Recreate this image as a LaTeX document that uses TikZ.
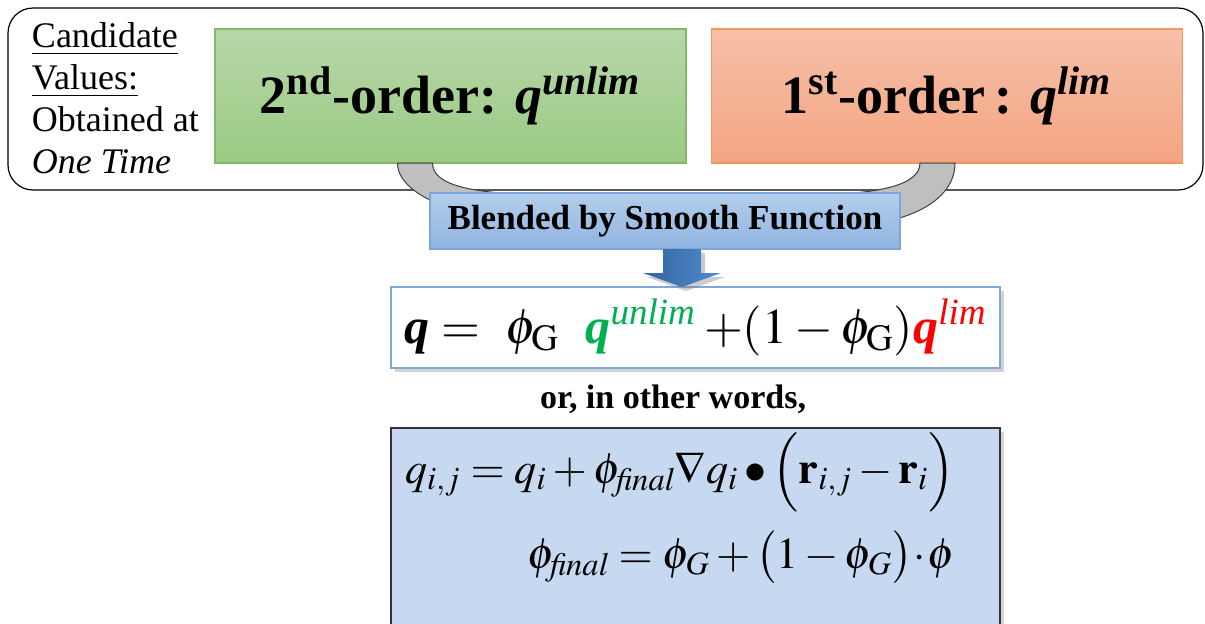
\documentclass[tikz,border=0pt]{standalone}
\usepackage{amsmath}
\usepackage{mathptmx}
\usepackage[no-math]{fontspec}
\setmainfont{Liberation Serif}
\usepackage{xcolor}
\usepackage{tikz}
\usetikzlibrary{positioning,calc,shadows}
\definecolor{qgreen}{HTML}{00B050}
\definecolor{qred}{HTML}{FF0000}
\definecolor{boxblue}{HTML}{C6D9F0}
\definecolor{lineblue}{HTML}{7FA8DA}

\begin{document}
\begin{tikzpicture}[
  x=0.5pt, y=-0.5pt,
  every node/.style={inner sep=0pt,outer sep=0pt},
  orderbox/.style={draw,minimum width=235.5pt,minimum height=67pt,line width=0.6pt,
    font=\fontsize{27}{32}\selectfont\bfseries},
  eqbox/.style={draw=lineblue,line width=0.7pt,minimum width=304.5pt,
    drop shadow={shadow xshift=2pt,shadow yshift=-2pt,opacity=0.35}},
  eqtext/.style={font=\fontsize{22}{27}\selectfont,anchor=base west}
]
\useasboundingbox (0,0) rectangle (1205,623);

% --- top frame with the two candidates ---
\node[draw,rounded corners=12.5pt,line width=0.6pt,fill=white,
  minimum width=597.5pt,minimum height=91pt] (frame) at (605.5,99) {};
\node[anchor=north west,align=left,font=\fontsize{18}{21}\selectfont] (cand) at (32,23)
  {\underline{Candidate}\\ \underline{Values:}\\ Obtained at\\ \textit{One Time}};
\node[orderbox,draw={rgb,255:red,130;green,185;blue,100},
  top color={rgb,255:red,183;green,215;blue,168},bottom color={rgb,255:red,155;green,202;blue,132}]
  (order2) at (450.5,96) {2\textsuperscript{nd}-order: \textit{q}\textsuperscript{\textit{unlim}}};
\node[orderbox,draw={rgb,255:red,244;green,150;blue,95},
  top color={rgb,255:red,246;green,192;blue,168},bottom color={rgb,255:red,244;green,164;blue,130}]
  (order1) at (947,96) {1\textsuperscript{st}-order\,: \textit{q}\textsuperscript{\textit{lim}}};

% --- grey band joining the two boxes ---
\draw[fill={rgb,255:red,191;green,191;blue,191},draw=black!75,line width=0.5pt]
  ($(order2.south)+(-53,0)$) .. controls ($(order2.south)+(-53,42)$) and (500,228) .. (580,228)
  -- (820,228) .. controls (910,228) and ($(order1.south)+(8,37)$) .. ($(order1.south)+(8,0)$)
  -- ($(order1.south)+(-27,0)$) .. controls ($(order1.south)+(-27,22)$) and (880,195) .. (800,195)
  -- (560,195) .. controls (470,195) and ($(order2.south)+(-18,22)$) .. ($(order2.south)+(-18,0)$)
  -- cycle;

% --- blending label and arrow ---
\node[draw={rgb,255:red,124;green,166;blue,216},line width=0.6pt,
  top color={rgb,255:red,180;green,206;blue,236},bottom color={rgb,255:red,143;green,180;blue,224},
  minimum width=235pt,minimum height=28pt,font=\fontsize{17.5}{21}\selectfont\bfseries]
  (blend) at (665,221) {Blended by Smooth Function};
\node[eqbox,fill=white,minimum height=40.5pt] (qblend) at (695.5,327.5) {};
\coordinate (tip) at (682,287);
\path[left color={rgb,255:red,50;green,100;blue,160},right color={rgb,255:red,80;green,140;blue,205},
  drop shadow={shadow xshift=2pt,shadow yshift=-2pt,opacity=0.4}]
  (tip|-blend.south) ++(-19,0) -- ++(0,24) -- ++(-20,0) -- (tip) -- ++(39,-14) -- ++(-20,0)
  -- ++(0,-24) -- cycle;

% --- blended value ---
\node[font=\fontsize{25}{30}\selectfont,anchor=base west] (qeq) at (404,343)
  {{\bfseries\itshape q} $=$\enspace$\phi_{\mathrm{G}}$\;
   \textcolor{qgreen}{{\bfseries\itshape q}\textsuperscript{\itshape unlim}}\,%
   $+(1-\phi_{\mathrm{G}})$\textcolor{qred}{{\bfseries\itshape q}\textsuperscript{\itshape lim}}};
\node[font=\fontsize{17}{20}\selectfont\bfseries,anchor=base west] (words) at (540,408)
  {or, in other words,};

% --- reconstruction formulas ---
\node[eqbox,draw=black!80,fill=boxblue,minimum height=111pt] (recon) at (695.5,539) {};
\node[eqtext] (qface) at (405,483)
  {$q_{i,j}=q_i+\phi_{\mathit{final}}\nabla q_i \bullet\Bigl(\mathbf{r}_{i,j}-\mathbf{r}_i\Bigr)$};
\node[eqtext] (phifinal) at (527,568)
  {$\phi_{\mathit{final}}=\phi_G+\bigl(1-\phi_G\bigr)\!\cdot\!\phi$};
\end{tikzpicture}
\end{document}
